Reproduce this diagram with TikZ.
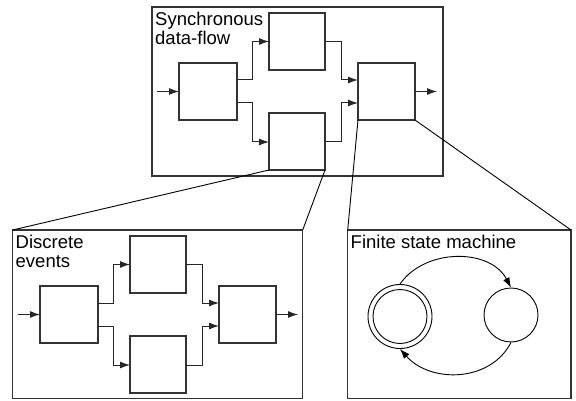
\documentclass[tikz,border=0pt]{standalone}
\usepackage{fontspec}
\setmainfont{Liberation Sans}
\usetikzlibrary{arrows.meta}
\tikzset{
  frame/.style={draw=black!80, line width=1.1pt},
  blk/.style={draw=black!80, line width=1.1pt, fill=white},
  wire/.style={draw=black!85, line width=1pt},
  arw/.style={wire, -{Latex[length=10pt,width=7pt]}},
  zoomline/.style={draw=black, line width=0.9pt},
  lbl/.style={anchor=north west, inner sep=0pt, align=left, font=\fontsize{18.5}{19}\selectfont},
  st/.style={draw=black, line width=0.9pt, circle},
}
\newcommand{\flowgraph}[1]{%
  \coordinate (#1A1) at (179,63); \coordinate (#1A2) at (237,120);
  \coordinate (#1B1) at (269,13); \coordinate (#1B2) at (325,70);
  \coordinate (#1C1) at (269,113); \coordinate (#1C2) at (325,170);
  \coordinate (#1D1) at (358,63); \coordinate (#1D2) at (415,120);
  \draw[blk] (#1A1) rectangle (#1A2);
  \draw[blk] (#1B1) rectangle (#1B2);
  \draw[blk] (#1C1) rectangle (#1C2);
  \draw[blk] (#1D1) rectangle (#1D2);
  \coordinate (#1in) at (157,91.5);
  \coordinate (#1out) at (437,91.5);
  \draw[arw] (#1in) -- (#1in -| #1A1);
  \draw[arw] (#1D2 |- #1out) -- (#1out);
  \draw[arw] (237,80) -- (252,80) -- (252,41.5) -- (#1B1 |- 0,41.5);
  \draw[arw] (237,103) -- (252,103) -- (252,142) -- (#1C1 |- 0,142);
  \draw[arw] (325,41.5) -- (341.5,41.5) -- (341.5,80) -- (358,80);
  \draw[arw] (325,142) -- (341.5,142) -- (341.5,103) -- (358,103);
}
\begin{document}
\begin{tikzpicture}[x=1pt,y=-1pt]
\useasboundingbox (0,0) rectangle (576,401);
% top box
\draw[frame] (152,7) rectangle (443,176);
\node[lbl] (sdf) at (155,11.5) {Synchronous\\data-flow};
\flowgraph{t}
% bottom-left box
\draw[frame] (12.7,230) rectangle (302.7,398.5);
\node[lbl] (de) at (15.5,234.5) {Discrete\\events};
\begin{scope}[shift={(-139,223)}]
\flowgraph{b}
\end{scope}
% right box
\draw[frame] (347.7,230) rectangle (571,398.5);
\node[lbl] (fsm) at (350.5,234.5) {Finite state machine};
\node[st, minimum size=64pt, inner sep=0pt] (s1) at (400,316.5) {};
\node[st, minimum size=54pt, inner sep=0pt] (s1i) at (400,316.5) {};
\node[st, minimum size=54pt, inner sep=0pt] (s2) at (511,315) {};
\draw[zoomline, -{Latex[length=10pt,width=7pt]}] (s1.north) .. controls (425,248) and (490,248) .. (s2.north);
\draw[zoomline, -{Latex[length=10pt,width=7pt]}] (s2.south) .. controls (490,383) and (430,383) .. (s1.south);
% zoom lines
\coordinate (bl1) at (12.7,230); \coordinate (bl2) at (302.7,230);
\coordinate (br1) at (347.7,230); \coordinate (br2) at (571,230);
\draw[zoomline] (tC1 |- tC2) -- (bl1);
\draw[zoomline] (tC2) -- (bl2);
\draw[zoomline] (tD1 |- tD2) -- (br1);
\draw[zoomline] (tD2) -- (br2);
\end{tikzpicture}
\end{document}
